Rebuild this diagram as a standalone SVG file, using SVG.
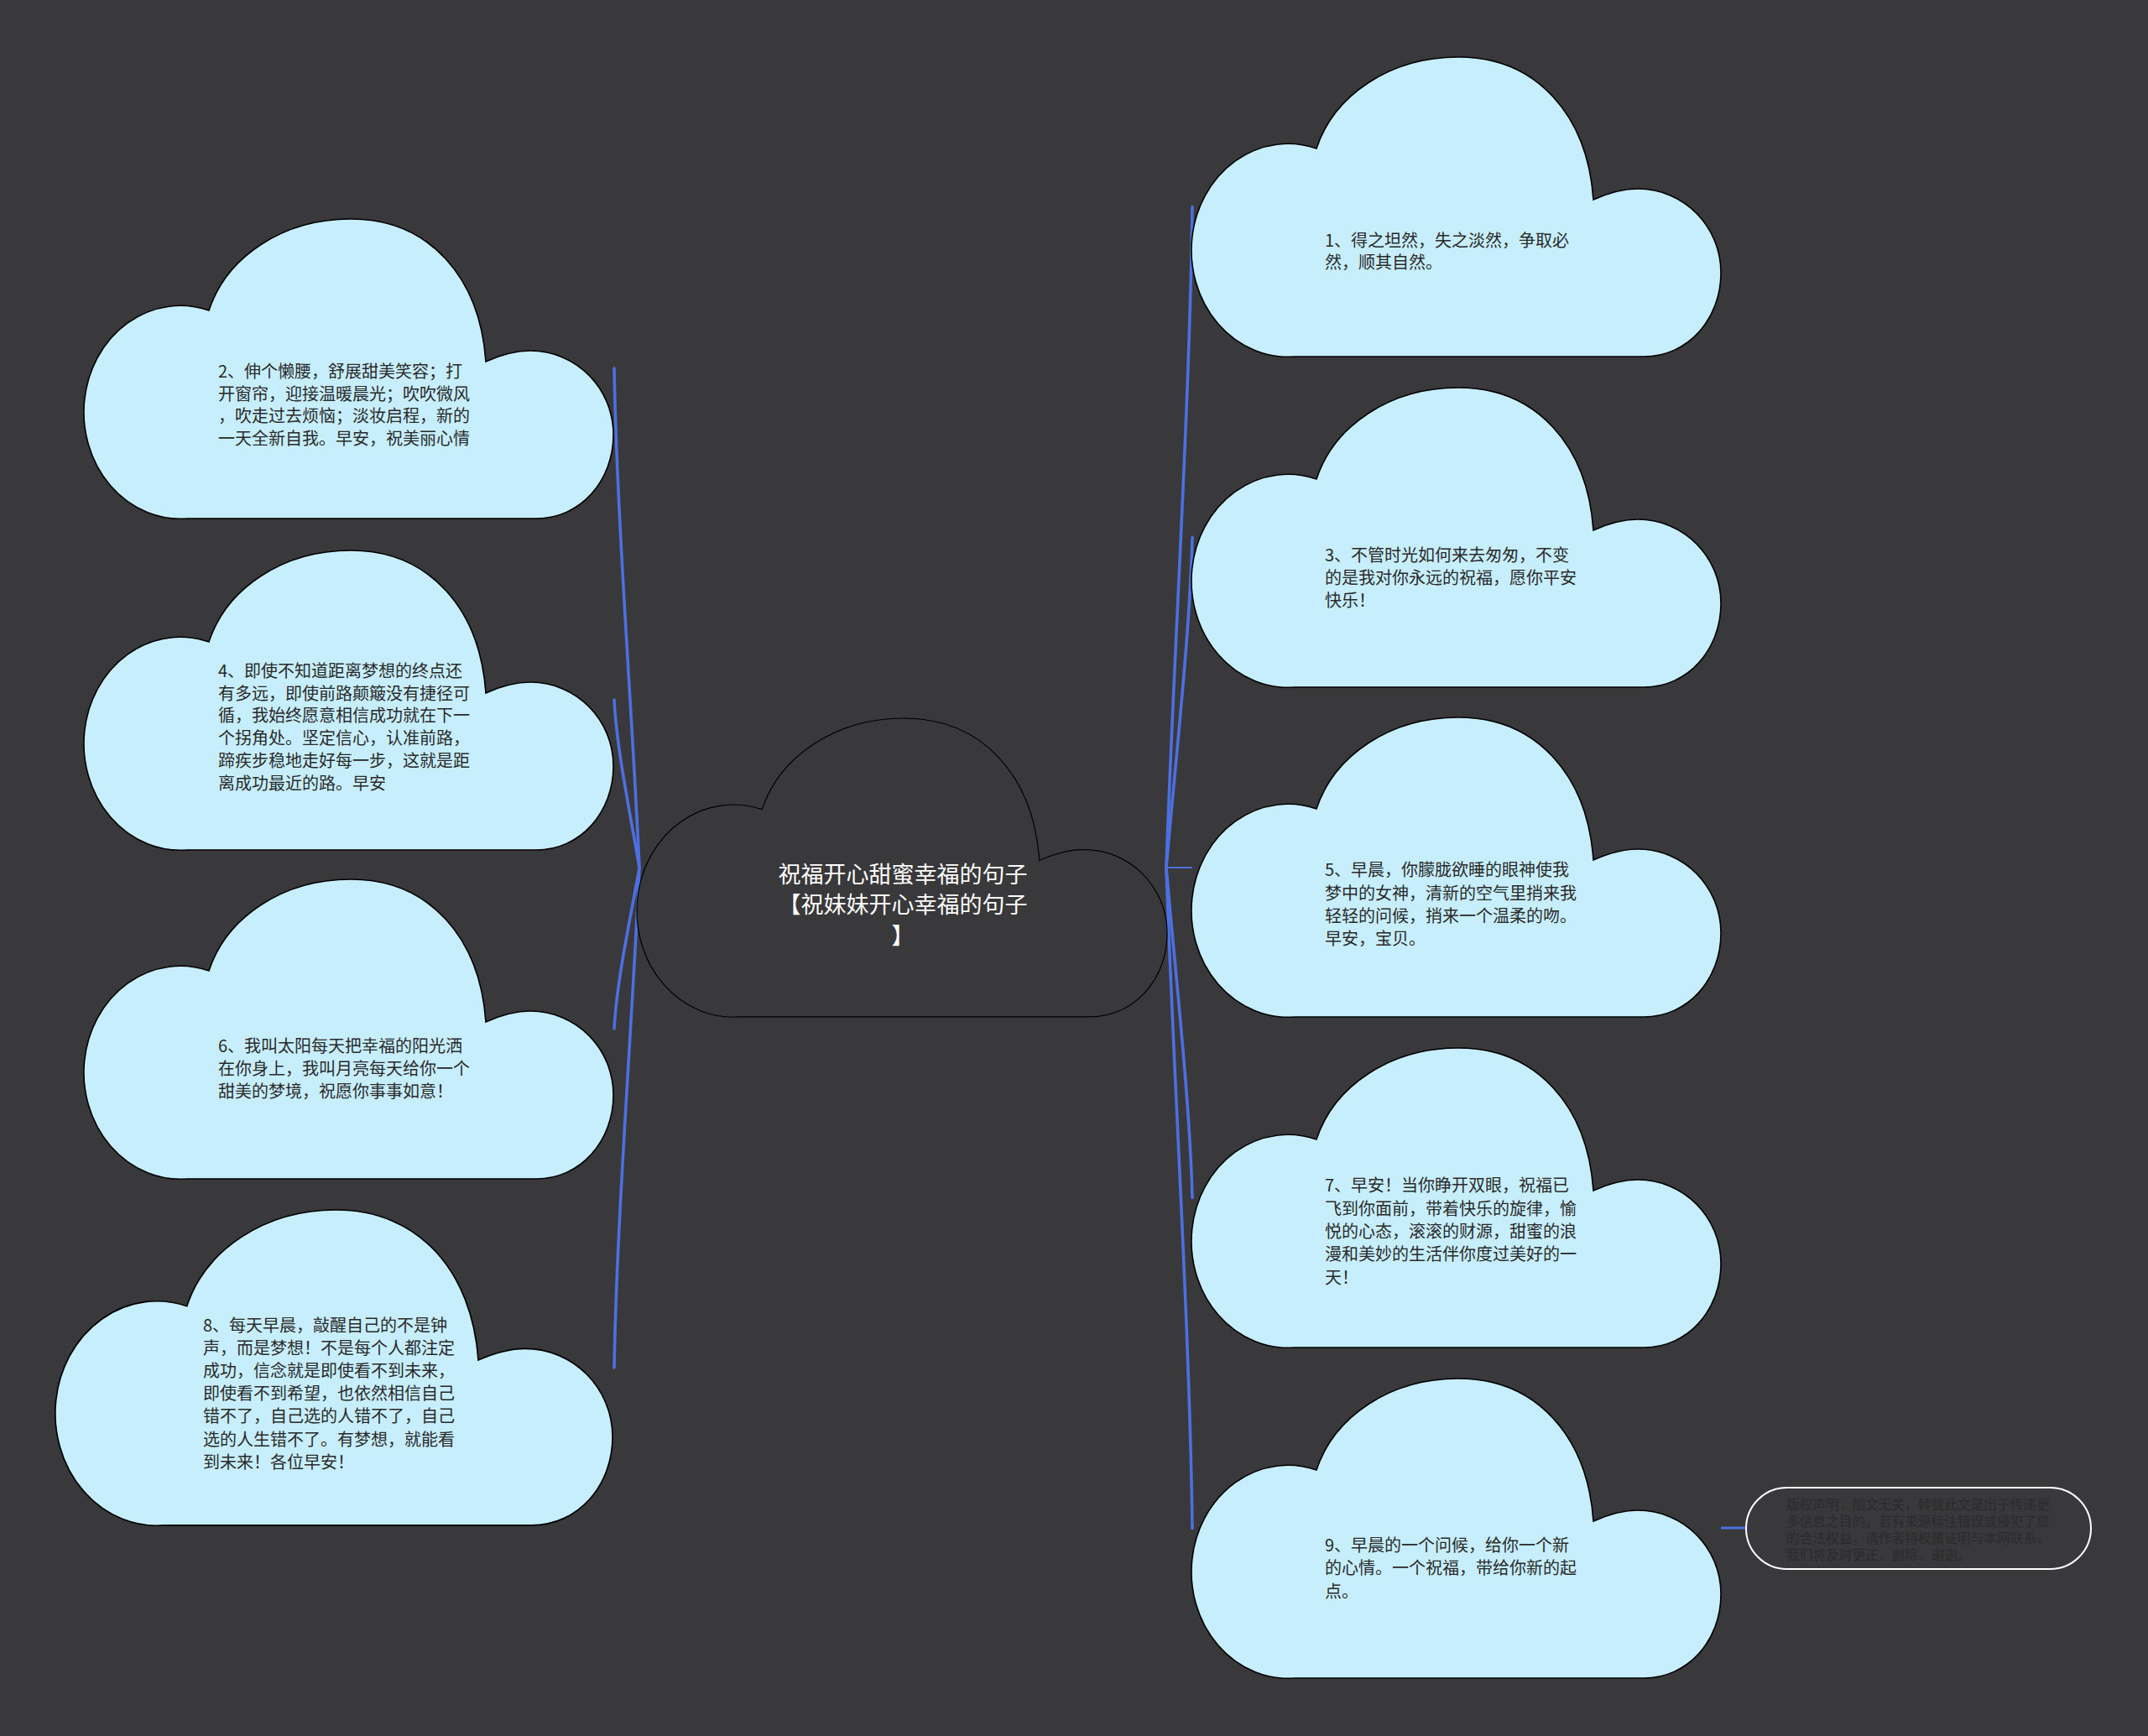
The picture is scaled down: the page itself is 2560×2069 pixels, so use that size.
<svg xmlns="http://www.w3.org/2000/svg" width="2560" height="2069" viewBox="0 0 2560 2069">
<style>
.bg{fill:#39383a}
.cl{fill:#c7eefc;stroke:#000;stroke-width:1.6}
.root{fill:#39383a;stroke:#000;stroke-width:1.2}
.t{font-family:"Noto Sans CJK SC","Noto Sans",sans-serif;font-size:20px;fill:#2a2a2a}
.rt{font-family:"Noto Sans CJK SC","Noto Sans",sans-serif;font-size:27px;fill:#ffffff;text-anchor:middle}
.nt{font-family:"Noto Sans CJK SC","Noto Sans",sans-serif;font-size:15.7px;fill:#2b2b2c}
.ln{fill:none;stroke:#4c70e0;stroke-width:3.6;stroke-linecap:round}
.ln2{fill:none;stroke:#4c70e0;stroke-width:2}
.pill{fill:none;stroke:#ffffff;stroke-width:2}
</style>
<defs>
<path id="cloud" d="M121,357 A115,127 0 1 1 147,109 C168,45 235,0 316,0 C410,0 470,70 477,170 C497,161 512,157 530,157 C585,157 629,202 629,257 C629,312 590,357 537,357 Z"/>
</defs>
<rect class="bg" x="0" y="0" width="2560" height="2069"/>
<g id="connectors">
<path class="ln" d="M762,1034 C754,855.5 735,617.5 732,439"/>
<path class="ln" d="M762,1034 C752,974 735,894 732,834"/>
<path class="ln" d="M762,1034 C752,1091.6 735,1168.4 732,1226"/>
<path class="ln" d="M762,1034 C754,1212.8 735,1451.2 732,1630"/>
<path class="ln" d="M1390,1034 C1398,797.75 1418,482.75 1421,246.5"/>
<path class="ln" d="M1390,1034 C1400,916 1418,758.5 1421,640.5"/>
<path class="ln2" d="M1390,1034 L1421,1034"/>
<path class="ln" d="M1390,1034 C1400,1152 1418,1309.5 1421,1427.5"/>
<path class="ln" d="M1390,1034 C1398,1270 1418,1585 1421,1821.5"/>
<path class="ln" d="M2051,1821 L2081,1821" style="stroke-width:3;stroke-linecap:butt"/>
</g>
<g id="root">
<use href="#cloud" class="root" transform="translate(761,856) scale(1.0016,0.997)"/>
<text class="rt"><tspan x="1076" y="1052">祝福开心甜蜜幸福的句子</tspan><tspan x="1076" y="1088">【祝妹妹开心幸福的句子</tspan><tspan x="1076" y="1125">】</tspan></text>
</g>
<g id="node1">
<use href="#cloud" class="cl" x="1422" y="68"/>
<text class="t"><tspan x="1579" y="294">1、得之坦然，失之淡然，争取必</tspan><tspan x="1579" y="320">然，顺其自然。</tspan></text>
</g>
<g id="node2">
<use href="#cloud" class="cl" x="102" y="261"/>
<text class="t"><tspan x="260" y="450">2、伸个懒腰，舒展甜美笑容；打</tspan><tspan x="260" y="477">开窗帘，迎接温暖晨光；吹吹微风</tspan><tspan x="260" y="503">，吹走过去烦恼；淡妆启程，新的</tspan><tspan x="260" y="530">一天全新自我。早安，祝美丽心情</tspan></text>
</g>
<g id="node3">
<use href="#cloud" class="cl" x="1422" y="462"/>
<text class="t"><tspan x="1579" y="669">3、不管时光如何来去匆匆，不变</tspan><tspan x="1579" y="696">的是我对你永远的祝福，愿你平安</tspan><tspan x="1579" y="723">快乐！</tspan></text>
</g>
<g id="node4">
<use href="#cloud" class="cl" x="102" y="656"/>
<text class="t"><tspan x="260" y="807">4、即使不知道距离梦想的终点还</tspan><tspan x="260" y="834">有多远，即使前路颠簸没有捷径可</tspan><tspan x="260" y="860">循，我始终愿意相信成功就在下一</tspan><tspan x="260" y="887">个拐角处。坚定信心，认准前路，</tspan><tspan x="260" y="914">蹄疾步稳地走好每一步，这就是距</tspan><tspan x="260" y="941">离成功最近的路。早安</tspan></text>
</g>
<g id="node5">
<use href="#cloud" class="cl" x="1422" y="855"/>
<text class="t"><tspan x="1579" y="1044">5、早晨，你朦胧欲睡的眼神使我</tspan><tspan x="1579" y="1072">梦中的女神，清新的空气里捎来我</tspan><tspan x="1579" y="1099">轻轻的问候，捎来一个温柔的吻。</tspan><tspan x="1579" y="1126">早安，宝贝。</tspan></text>
</g>
<g id="node6">
<use href="#cloud" class="cl" x="102" y="1048"/>
<text class="t"><tspan x="260" y="1254">6、我叫太阳每天把幸福的阳光洒</tspan><tspan x="260" y="1281">在你身上，我叫月亮每天给你一个</tspan><tspan x="260" y="1308">甜美的梦境，祝愿你事事如意！</tspan></text>
</g>
<g id="node7">
<use href="#cloud" class="cl" x="1422" y="1249"/>
<text class="t"><tspan x="1579" y="1420">7、早安！当你睁开双眼，祝福已</tspan><tspan x="1579" y="1448">飞到你面前，带着快乐的旋律，愉</tspan><tspan x="1579" y="1475">悦的心态，滚滚的财源，甜蜜的浪</tspan><tspan x="1579" y="1502">漫和美妙的生活伴你度过美好的一</tspan><tspan x="1579" y="1530">天！</tspan></text>
</g>
<g id="node8">
<use href="#cloud" class="cl" transform="translate(68,1442) scale(1.0525,1.053)"/>
<text class="t"><tspan x="242" y="1587">8、每天早晨，敲醒自己的不是钟</tspan><tspan x="242" y="1614">声，而是梦想！不是每个人都注定</tspan><tspan x="242" y="1641">成功，信念就是即使看不到未来，</tspan><tspan x="242" y="1668">即使看不到希望，也依然相信自己</tspan><tspan x="242" y="1695">错不了，自己选的人错不了，自己</tspan><tspan x="242" y="1723">选的人生错不了。有梦想，就能看</tspan><tspan x="242" y="1750">到未来！各位早安！</tspan></text>
</g>
<g id="node9">
<use href="#cloud" class="cl" x="1422" y="1643"/>
<text class="t"><tspan x="1579" y="1849">9、早晨的一个问候，给你一个新</tspan><tspan x="1579" y="1876">的心情。一个祝福，带给你新的起</tspan><tspan x="1579" y="1904">点。</tspan></text>
</g>
<g id="note">
<rect class="pill" x="2081" y="1773" width="411" height="97" rx="48.5" ry="48.5"/>
<text class="nt"><tspan x="2129" y="1799">版权声明：图文无关，转载此文是出于传递更</tspan><tspan x="2129" y="1819">多信息之目的。若有来源标注错误或侵犯了您</tspan><tspan x="2129" y="1839">的合法权益，请作者持权属证明与本网联系，</tspan><tspan x="2129" y="1859">我们将及时更正，删除，谢谢。</tspan></text>
</g>
</svg>
